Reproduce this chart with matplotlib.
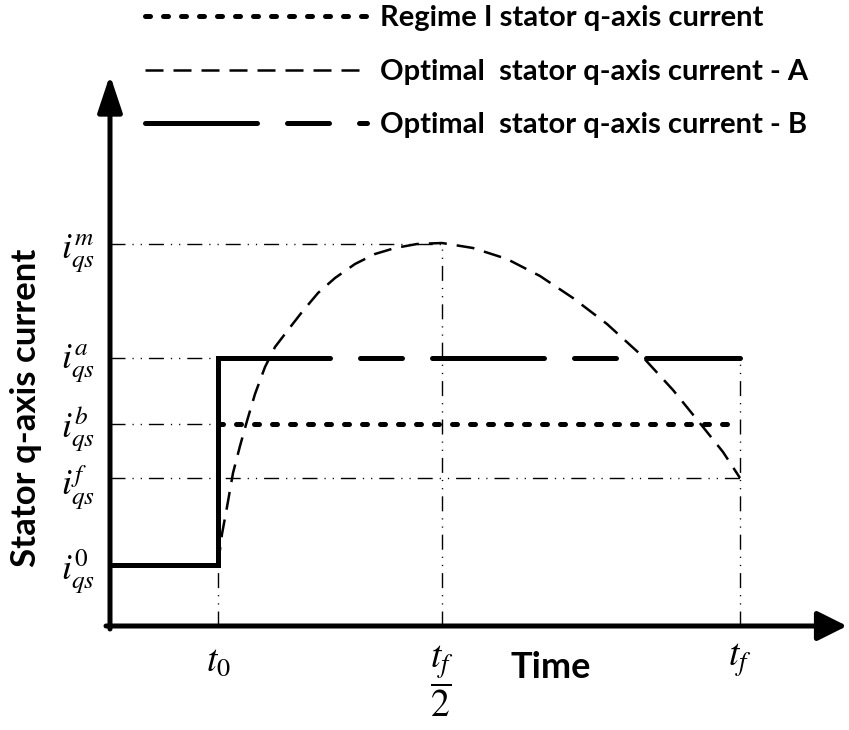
import numpy as np
import matplotlib.pyplot as plt

plt.rcParams['lines.scale_dashes'] = False
plt.rcParams['mathtext.fontset'] = 'stix'
plt.rcParams['font.family'] = ['Lato', 'DejaVu Sans']

## schematic levels (arbitrary units) ##
t0 = 108
t_half = 332
tf = 630

i_0 = 61
i_f = 148
i_b = 202
i_a = 268
i_m = 382

# optimal current A
curve_t = [108, 112, 117, 123, 130, 137, 145, 155, 165, 178, 192, 208, 225, 245,
           265, 285, 307, 332, 363, 397, 430, 463, 497, 530, 563, 593, 613, 630]
curve_i = [61, 92, 119, 153, 180, 205, 232, 259, 279, 296, 314, 333, 348, 362,
           372, 378, 382, 383, 378, 367, 350, 328, 302, 272, 236, 199, 174, 148]

# regime I and optimal B
regime_t = [t0, tf]
regime_i = [i_b, i_b]
step_t = [0, t0, t0]
step_i = [i_0, i_0, i_a]
optB_t = [t0, tf]
optB_i = [i_a, i_a]

legend_labels = ['Regime I stator q-axis current',
                 'Optimal  stator q-axis current - A',
                 'Optimal  stator q-axis current - B']

px = 0.72  # points per pixel at dpi 100
lw_thick = 5 * px

fig = plt.figure(figsize=(8.49, 7.30), dpi=100)
ax = fig.add_axes([0, 0, 1, 1])
ax.set_xlim(-110, 739)
ax.set_ylim(-104, 626)
ax.axis('off')

# guide lines (dash dot dot)
guide = dict(color='k', lw=1.0, dashes=(15 * px, 7 * px, 1.2 * px, 7 * px, 1.2 * px, 7 * px))
ax.plot([0, t_half], [i_m, i_m], **guide)
ax.plot([0, t0], [i_a, i_a], **guide)
ax.plot([0, t0], [i_b, i_b], **guide)
ax.plot([0, tf], [i_f, i_f], **guide)
ax.plot([t0, t0], [0, i_0], **guide)
ax.plot([t_half, t_half], [0, i_m], **guide)
ax.plot([tf, tf], [0, i_a], **guide)

# curves
l_reg, = ax.plot(regime_t, regime_i, color='k', lw=lw_thick,
                 dashes=(5 * px, 13 * px), dash_capstyle='round')
l_A, = ax.plot(curve_t, curve_i, color='k', lw=1.8,
               dashes=(18 * px, 10 * px))
ax.plot(step_t, step_i, color='k', lw=lw_thick, solid_joinstyle='miter')
l_B, = ax.plot(optB_t, optB_i, color='k', lw=lw_thick,
               dashes=(112 * px, 30 * px, 42 * px, 30 * px), dash_capstyle='round')

# axes with arrows
ax.annotate('', xy=(0, 551), xytext=(0, -3),
            arrowprops=dict(arrowstyle='-|>,head_length=0.75,head_width=0.25',
                            lw=lw_thick, color='k', mutation_scale=30,
                            shrinkA=0, shrinkB=0))
ax.annotate('', xy=(737, 0), xytext=(-4, 0),
            arrowprops=dict(arrowstyle='-|>,head_length=0.6,head_width=0.3',
                            lw=lw_thick, color='k', mutation_scale=30,
                            shrinkA=0, shrinkB=0))

# level labels
for lev, sup, dy in [(i_m, 'm', -10), (i_a, 'a', -6), (i_b, 'b', -6),
                     (i_f, 'f', -10), (i_0, '0', -6)]:
    ax.text(-32, lev + dy, r'$i_{qs}^{%s}$' % sup, fontsize=26,
            ha='center', va='center')

ax.text(t0, -34, r'$t_0$', fontsize=27, ha='center', va='center')
ax.text(tf, -34, r'$t_f$', fontsize=27, ha='center', va='center')
ax.text(t_half, -55, r'$\dfrac{t_f}{2}$', fontsize=27, ha='center', va='center')

ax.text(441, -42, 'Time', fontsize=26, fontweight='bold', ha='center', va='center')
ax.text(-84, 218, 'Stator q-axis current', fontsize=25, fontweight='bold',
        rotation=90, ha='center', va='center')

fig.legend([l_reg, l_A, l_B], legend_labels, loc='upper left',
           bbox_to_anchor=(145 / 849, 1.0 - 5 / 730), frameon=False,
           prop={'weight': 'bold', 'size': 21}, handlelength=7.6,
           handletextpad=0.45, labelspacing=0.95, borderpad=0, borderaxespad=0)

plt.savefig('out.png', dpi=100)
